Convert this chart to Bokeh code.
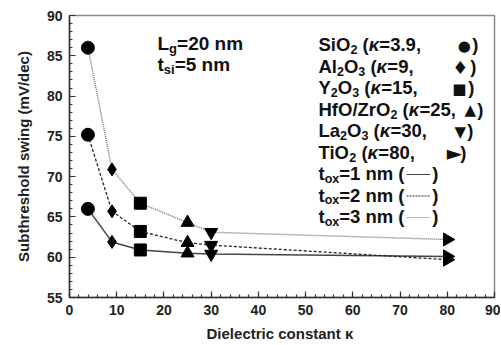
import numpy as np
from bokeh.plotting import figure
from bokeh.models import Label, Arrow, SingleIntervalTicker, Range1d, ColumnDataSource
from bokeh.embed import file_html
from bokeh.resources import INLINE

# ---- data ----
kappa = [3.9, 9, 15, 25, 30, 80]
ss_tox1 = [66.0, 61.9, 60.9, 60.5, 60.4, 60.1]
ss_tox2 = [75.2, 65.7, 63.2, 61.8, 61.5, 59.7]
ss_tox3 = [86.0, 70.9, 66.7, 64.3, 63.1, 62.2]
markers = ["circle", "diamond", "square", "triangle", "inverted_triangle", "triangle"]
marker_angles = [0, 0, 0, 0, 0, -np.pi / 2]
marker_sizes = [13, 13, 12, 13, 13, 13]
x_label = "Dielectric constant  κ"
y_label = "Subthreshold swing (mV/dec)"

FONT = "Liberation Sans"
SYMFONT = "DejaVu Sans"

# page-pixel frame geometry
FL, FR, FT, FB = 69.0, 494.0, 15.0, 297.0
WIDTH, HEIGHT = 500, 345

p = figure(width=WIDTH, height=HEIGHT, x_range=Range1d(0, 90), y_range=Range1d(55, 90),
           output_backend="svg", toolbar_location=None,
           min_border_left=int(FL), min_border_right=int(WIDTH - FR),
           min_border_top=int(FT), min_border_bottom=int(HEIGHT - FB))
p.xgrid.visible = False
p.ygrid.visible = False
p.outline_line_color = "#8a8a8a"
p.outline_line_width = 1.5
p.background_fill_color = "white"

p.xaxis.ticker = SingleIntervalTicker(interval=10, num_minor_ticks=5)
p.yaxis.ticker = SingleIntervalTicker(interval=5, num_minor_ticks=5)
for ax in (p.xaxis[0], p.yaxis[0]):
    ax.axis_line_color = "#333333"
    ax.axis_line_width = 1.5
    ax.major_tick_in = 6
    ax.major_tick_out = 0
    ax.minor_tick_in = 3
    ax.minor_tick_out = 0
    ax.major_tick_line_color = "#333333"
    ax.minor_tick_line_color = "#333333"
    ax.major_tick_line_width = 1.2
    ax.minor_tick_line_width = 1.2
    ax.major_label_text_font = FONT
    ax.major_label_text_font_style = "bold"
    ax.major_label_text_font_size = "14px"
    ax.major_label_text_color = "#222222"
    ax.axis_label_text_font = FONT
    ax.axis_label_text_font_style = "bold"
    ax.axis_label_text_font_size = "15px"
    ax.axis_label_text_color = "#222222"
p.xaxis.axis_label = x_label
p.yaxis.axis_label = y_label
p.xaxis.major_label_standoff = 7
p.xaxis.axis_label_standoff = 7
p.yaxis.major_label_standoff = 7
p.yaxis.axis_label_standoff = 12

# ---- series lines ----
p.line(kappa, ss_tox1, line_color="#444444", line_width=1.5)
p.line(kappa, ss_tox2, line_color="#222222", line_width=1.3, line_dash="3 2")
p.line(kappa, ss_tox3, line_color="#777777", line_width=1.5, line_dash="1 1")

for ss in (ss_tox1, ss_tox2, ss_tox3):
    src = ColumnDataSource(dict(x=kappa, y=ss, m=markers, a=marker_angles, s=marker_sizes))
    p.scatter("x", "y", marker="m", angle="a", size="s", source=src,
              fill_color="black", line_color="black")

# ---- text helpers (page pixels -> data coords) ----
def px2x(px):
    return (px - FL) / (FR - FL) * 90.0
def py2y(py):
    return 90.0 - (py - FT) / (FB - FT) * 35.0

W = {' ': 278, '(': 333, ')': 333, ',': 278, '.': 278, '/': 278, '=': 584,
     'A': 722, 'H': 722, 'L': 611, 'O': 778, 'S': 667, 'T': 611, 'Y': 667, 'Z': 611,
     'a': 556, 'f': 333, 'g': 611, 'i': 278, 'l': 278, 'm': 889, 'n': 611, 'o': 611,
     'r': 389, 's': 556, 't': 333, 'x': 556, 'κ': 580}
def tw(s, size):
    return sum(W.get(c, 556) for c in s) / 1000.0 * size

def place(txt, x, yc, fs, style="bold", font=FONT, align="left"):
    p.add_layout(Label(x=px2x(x), y=py2y(yc), text=txt, text_font=font,
                       text_font_style=style, text_font_size=f"{fs}px",
                       text_color="#111111", text_align=align,
                       text_baseline="middle"))

def add_pieces(pieces, x0, yc, size=18.5, sub=12.5):
    x = x0
    for txt, kind in pieces:
        fs, style, dy = size, "bold", 0
        if kind == "s":
            fs, dy = sub, 5
        elif kind == "k":
            style = "bold italic"
        lead = len(txt) - len(txt.lstrip(" "))
        trail = len(txt) - len(txt.rstrip(" "))
        x += lead * 0.278 * fs
        t = txt.strip(" ")
        place(t, x, yc + dy, fs, style)
        x += tw(t, fs) + trail * 0.278 * fs
    return x

legend_rows = [
    [("SiO", "n"), ("2", "s"), (" (", "n"), ("κ", "k"), ("=3.9,", "n")],
    [("Al", "n"), ("2", "s"), ("O", "n"), ("3", "s"), (" (", "n"), ("κ", "k"), ("=9,", "n")],
    [("Y", "n"), ("2", "s"), ("O", "n"), ("3", "s"), (" (", "n"), ("κ", "k"), ("=15,", "n")],
    [("HfO/ZrO", "n"), ("2", "s"), (" (", "n"), ("κ", "k"), ("=25,", "n")],
    [("La", "n"), ("2", "s"), ("O", "n"), ("3", "s"), (" (", "n"), ("κ", "k"), ("=30,", "n")],
    [("TiO", "n"), ("2", "s"), (" (", "n"), ("κ", "k"), ("=80,", "n")],
]
legend_symbols = ["●", "♦", "■", "▲", "▼", "►"]
legend_sym_size = [15, 18, 15, 15, 15, 20]
legend_sym_gap = [14, 16, 15, 13, 13, 12]
legend_row_end = [478, 476, 474, 483, 473, 466]
tox_rows = [
    [("t", "n"), ("ox", "s"), ("=1 nm (", "n")],
    [("t", "n"), ("ox", "s"), ("=2 nm (", "n")],
    [("t", "n"), ("ox", "s"), ("=3 nm (", "n")],
]
tox_dash = ["solid", "2 1", "1 1"]
tox_color = ["#444444", "#333333", "#777777"]

ROW0, PITCH, LX = 44.0, 21.5, 318.0
for i, row in enumerate(legend_rows):
    yc = ROW0 + PITCH * i
    add_pieces(row, LX, yc)
    rp = legend_row_end[i]
    place(")", rp, yc, 18.5, align="right")
    sx = rp - 0.333 * 18.5 - legend_sym_gap[i] + 6
    place(legend_symbols[i], sx, yc + 1, legend_sym_size[i], style="normal",
          font=SYMFONT, align="center")

for j, row in enumerate(tox_rows):
    yc = ROW0 + PITCH * (6 + j)
    xend = add_pieces(row, LX, yc)
    p.add_layout(Arrow(x_start=px2x(xend + 2), y_start=py2y(yc + 1),
                       x_end=px2x(430), y_end=py2y(yc + 1), end=None,
                       line_color=tox_color[j], line_width=1.2, line_dash=tox_dash[j]))
    place(")", 438, yc, 18.5, align="right")

add_pieces([("L", "n"), ("g", "s"), ("=20 nm", "n")], 157, 42.5, size=19, sub=13)
add_pieces([("t", "n"), ("si", "s"), ("=5 nm", "n")], 157, 63.5, size=19, sub=13)

open("out.html", "w").write(file_html(p, INLINE))
